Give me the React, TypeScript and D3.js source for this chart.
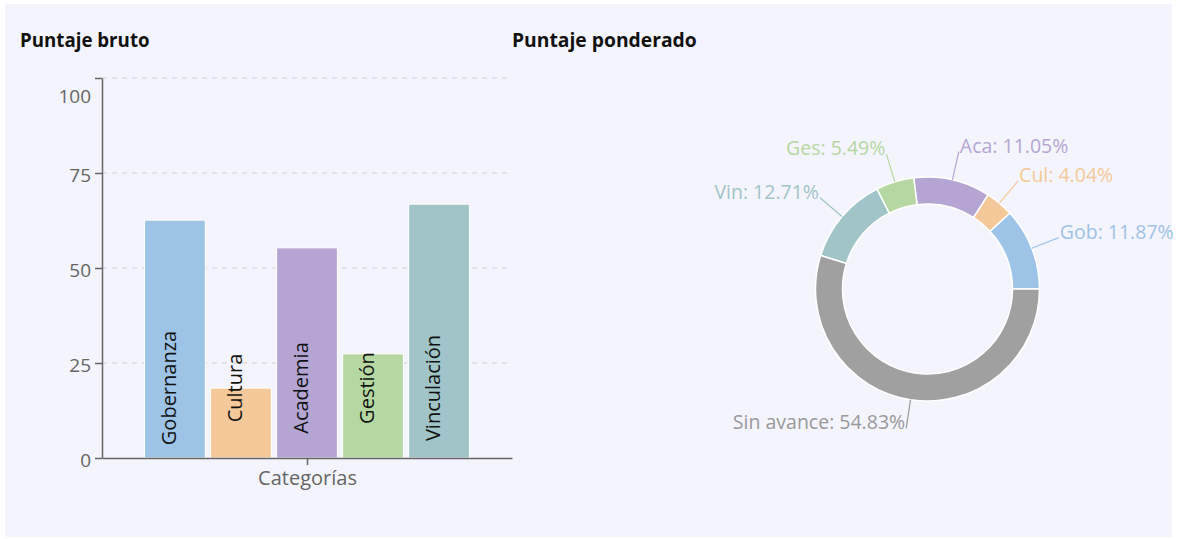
import React, { useEffect, useRef } from "react";
import * as d3 from "d3";

const categories = ["Gobernanza", "Cultura", "Academia", "Gestión", "Vinculación"];
const rawScores = [62.6, 18.4, 55.3, 27.4, 66.8];
const barColors = ["#9dc3e6", "#f5c899", "#b4a5d3", "#b5d8a3", "#a0c4c7"];
const yTicks = [0, 25, 50, 75, 100];

const sliceNames = ["Gob", "Cul", "Aca", "Ges", "Vin", "Sin avance"];
const sliceValues = [11.87, 4.04, 11.05, 5.49, 12.71, 54.83];
const sliceColors = ["#9dc3e6", "#f5c899", "#b4a5d3", "#b5d8a3", "#a0c4c7", "#a0a0a0"];
const labelColors = ["#9dc3e6", "#f5c899", "#b4a5d3", "#b5d8a3", "#a0c4c7", "#999999"];

const FONT = "'Open Sans', 'Noto Sans', sans-serif";

export default function App() {
  const ref = useRef<SVGSVGElement>(null);

  useEffect(() => {
    const svg = d3.select(ref.current);
    svg.selectAll("*").remove();

    // fondo
    svg.append("rect").attr("x", 5).attr("y", 4).attr("width", 1167).attr("height", 533).attr("fill", "#f4f4fd");

    svg.append("text").attr("x", 20).attr("y", 47).attr("font-family", FONT).attr("font-weight", 700)
      .attr("font-size", 18.7).attr("fill", "#111").text("Puntaje bruto");
    svg.append("text").attr("x", 512).attr("y", 47).attr("font-family", FONT).attr("font-weight", 700)
      .attr("font-size", 19.3).attr("fill", "#111").text("Puntaje ponderado");

    // ---- barras ----
    const x0 = 102, x1 = 512;
    const y = d3.scaleLinear().domain([0, 100]).range([458, 78]);
    const x = d3.scaleBand().domain(categories).range([x0, x1]).paddingInner(0.08).paddingOuter(0.645);

    const g = svg.append("g");

    // grid
    g.selectAll("line.grid").data(yTicks.filter((t) => t > 0)).enter().append("line")
      .attr("x1", x0).attr("x2", x1).attr("y1", (d) => y(d)).attr("y2", (d) => y(d))
      .attr("stroke", "#cfcfd4").attr("stroke-dasharray", "5,5");

    g.selectAll("rect.bar").data(categories).enter().append("rect")
      .attr("x", (d) => x(d)!)
      .attr("y", (d, i) => y(rawScores[i]))
      .attr("width", x.bandwidth())
      .attr("height", (d, i) => y(0) - y(rawScores[i]))
      .attr("fill", (d, i) => barColors[i])
      .attr("stroke", "#ffffff").attr("stroke-width", 1);

    g.selectAll("text.blabel").data(categories).enter().append("text")
      .attr("transform", (d) => `translate(${x(d)! + x.bandwidth() / 2 + 1},388) rotate(-90)`)
      .attr("text-anchor", "middle").attr("font-family", FONT).attr("font-size", 20).attr("fill", "#111")
      .text((d) => d);

    // eje y
    const yAxis = g.append("g").attr("transform", `translate(${x0},0)`)
      .call(d3.axisLeft(y).tickValues(yTicks).tickSize(7).tickSizeOuter(0));
    yAxis.select(".domain").attr("stroke", "#666").attr("stroke-width", 1.5);
    yAxis.selectAll(".tick line").attr("stroke", "#666").attr("stroke-width", 1.5);
    yAxis.selectAll(".tick text").attr("font-family", FONT).attr("font-size", 19).attr("fill", "#666")
      .attr("x", -11)
      .attr("dy", (d: any) => (d === 100 ? "1.3em" : "0.45em"));

    // eje x
    const xAxis = g.append("g").attr("transform", `translate(0,${y(0)})`)
      .call(d3.axisBottom(d3.scalePoint().domain(["Categorías"]).range([x0, x1])).tickSize(7).tickSizeOuter(0));
    xAxis.select(".domain").attr("stroke", "#666").attr("stroke-width", 1.5);
    xAxis.selectAll(".tick line").attr("stroke", "#666").attr("stroke-width", 1.5);
    xAxis.selectAll(".tick text").attr("font-family", FONT).attr("font-size", 20).attr("fill", "#666").attr("dy", "0.85em");

    // ---- dona ----
    const cx = 927.5, cy = 289;
    const rOuter = 112, rInner = 85, rLabel = 141;
    const pie = d3.pie<number>().sort(null).startAngle(Math.PI / 2).endAngle(Math.PI / 2 - 2 * Math.PI);
    const arcs = pie(sliceValues);
    const arc = d3.arc<d3.PieArcDatum<number>>().innerRadius(rInner).outerRadius(rOuter);

    const dg = svg.append("g").attr("transform", `translate(${cx},${cy})`);
    dg.selectAll("path").data(arcs).enter().append("path")
      .attr("d", arc).attr("fill", (d, i) => sliceColors[i]).attr("stroke", "#ffffff").attr("stroke-width", 1.5);

    arcs.forEach((a, i) => {
      const m = (a.startAngle + a.endAngle) / 2;
      const sx = rOuter * Math.sin(m), sy = -rOuter * Math.cos(m);
      const ex = rLabel * Math.sin(m), ey = -rLabel * Math.cos(m);
      dg.append("line").attr("x1", sx).attr("y1", sy).attr("x2", ex).attr("y2", ey)
        .attr("stroke", labelColors[i]).attr("stroke-width", 1.2);
      const right = Math.sin(m) > 0;
      dg.append("text")
        .attr("x", ex + (right ? 1 : -1)).attr("y", ey + 1)
        .attr("text-anchor", right ? "start" : "end")
        .attr("font-family", FONT).attr("font-size", 19.5).attr("fill", labelColors[i])
        .text(`${sliceNames[i]}: ${sliceValues[i].toFixed(2)}%`);
    });
  }, []);

  return (
    <svg ref={ref} width={1178} height={539} style={{ position: "absolute", left: 0, top: 0, background: "#fff" }} />
  );
}
